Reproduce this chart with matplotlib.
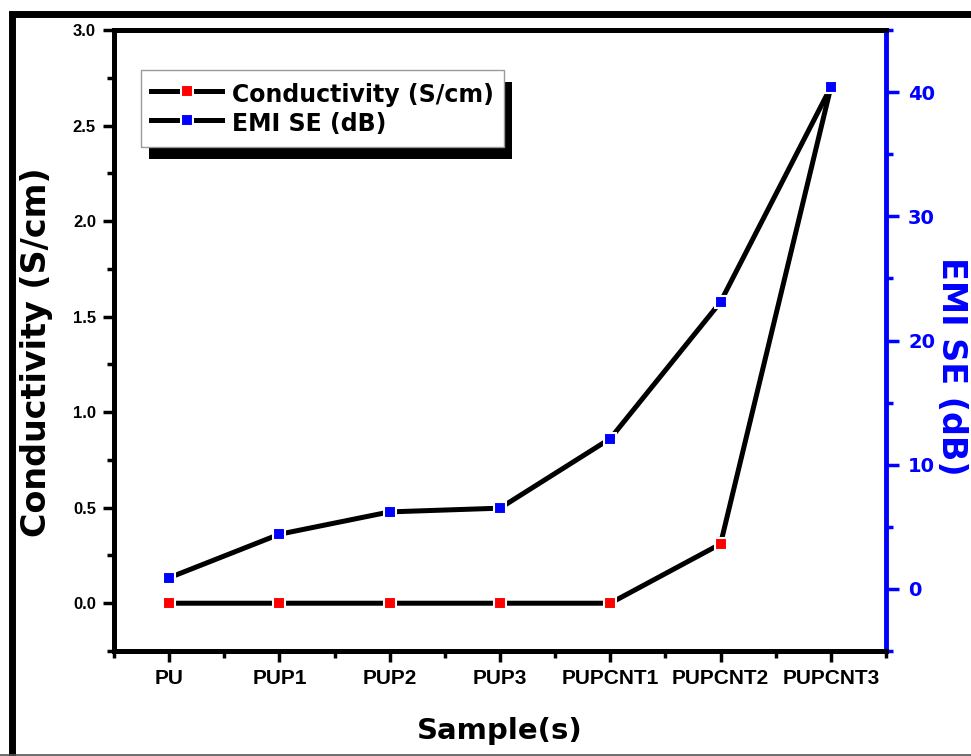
import matplotlib
matplotlib.use("Agg")
import matplotlib.pyplot as plt
from matplotlib.patches import Rectangle
from matplotlib.ticker import MultipleLocator

# data
samples = ["PU", "PUP1", "PUP2", "PUP3", "PUPCNT1", "PUPCNT2", "PUPCNT3"]
conductivity = [0.0, 0.0, 0.0, 0.0, 0.0, 0.31, 2.70]   # S/cm
emi_se = [0.9, 4.4, 6.2, 6.5, 12.1, 23.1, 40.4]        # dB

BLUE = "#0000ff"
LW = 3.6
TICKFONT = ["Liberation Sans", "DejaVu Sans"]

fig = plt.figure(figsize=(9.71, 7.56), dpi=100)
ax = fig.add_axes([0.1174, 0.1389, 0.795, 0.8214])
ax2 = ax.twinx()

x = list(range(len(samples)))
l1, = ax.plot(x, conductivity, color="black", lw=LW, marker="s", ms=8,
              mfc="red", mec="white", mew=1.5, label="Conductivity (S/cm)", zorder=3)
l2, = ax2.plot(x, emi_se, color="black", lw=LW, marker="s", ms=8,
               mfc=BLUE, mec="white", mew=1.5, label="EMI SE (dB)", zorder=3)

ax.set_xlim(-0.5, 6.5)
ax.set_ylim(-0.25, 3.0)
ax2.set_ylim(-5, 45)

ax.set_xticks(x)
ax.set_xticklabels(samples, family=TICKFONT, fontweight="bold", fontsize=15)
ax.xaxis.set_minor_locator(MultipleLocator(0.5))
ax.yaxis.set_major_locator(MultipleLocator(0.5))
ax.yaxis.set_minor_locator(MultipleLocator(0.25))
ax2.yaxis.set_major_locator(MultipleLocator(10))
ax2.yaxis.set_minor_locator(MultipleLocator(5))

ax.tick_params(axis="both", which="major", direction="out", length=8, width=2.5, pad=5)
ax.tick_params(axis="both", which="minor", direction="out", length=5, width=2.5)
ax.tick_params(axis="x", which="both", top=False)
for lab in ax.get_yticklabels():
    lab.set_family(TICKFONT)
    lab.set_fontweight("bold")
    lab.set_fontsize(12)

ax2.tick_params(axis="y", which="major", direction="out", length=9, width=2.5,
                colors=BLUE, pad=7, labelsize=14)
ax2.tick_params(axis="y", which="minor", direction="out", length=5, width=2.5, colors=BLUE)
for lab in ax2.get_yticklabels():
    lab.set_fontweight("bold")

for s in ["left", "bottom", "top"]:
    ax.spines[s].set_linewidth(3.5)
    ax2.spines[s].set_linewidth(3.5)
ax2.spines["right"].set_linewidth(3.5)
ax2.spines["right"].set_color(BLUE)
ax.spines["right"].set_visible(False)

ax.set_xlabel("Sample(s)", fontsize=21, fontweight="bold", labelpad=21)
ax.set_ylabel("Conductivity (S/cm)", fontsize=24, fontweight="bold", labelpad=14)
ax.yaxis.label.set_y(0.481)
ax2.set_ylabel("EMI SE (dB)", fontsize=24, fontweight="bold", color=BLUE,
               rotation=270, labelpad=24)
ax2.yaxis.label.set_y(0.459)

leg = ax2.legend(handles=[l1, l2], loc="upper left", bbox_to_anchor=(0.0346, 0.9356),
                 borderaxespad=0, borderpad=0.45, handlelength=3.0, handleheight=1.4,
                 handletextpad=0.4, labelspacing=0.05, fancybox=False, framealpha=1,
                 prop={"weight": "bold", "size": 17})
leg.get_frame().set_edgecolor("#999999")
leg.get_frame().set_linewidth(1.0)
leg.set_zorder(10)

# black drop shadow behind the legend box
fig.canvas.draw()
bb = leg.get_window_extent()
shadow = Rectangle((bb.x0 + 8, bb.y0 - 12), bb.width, bb.height, transform=None,
                   facecolor="black", edgecolor="none", zorder=9)
ax2.add_artist(shadow)

# outer frame of the picture
fig.add_artist(Rectangle((11.5 / 971, -0.01), 1.2, 1 - 13.5 / 756 + 0.01, transform=fig.transFigure,
                         fill=False, edgecolor="black", linewidth=5, clip_on=False))
fig.add_artist(plt.Line2D([0, 1], [1.5 / 756, 1.5 / 756], transform=fig.transFigure,
                          color="#555555", linewidth=1.2))

fig.savefig("out.png", dpi=100)
